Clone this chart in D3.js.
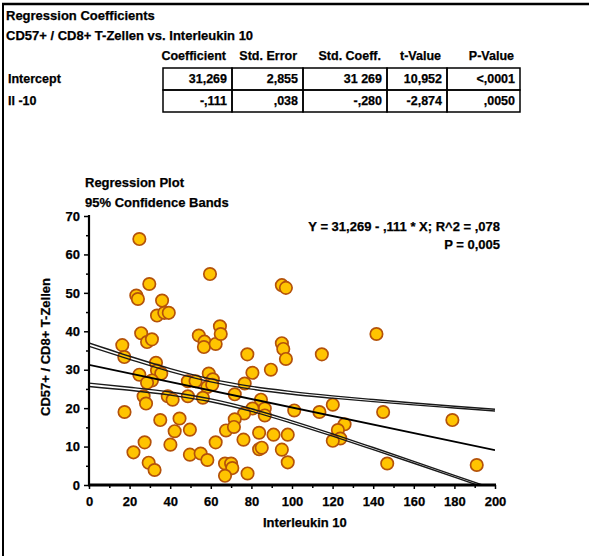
<!DOCTYPE html>
<html lang="de">
<head>
<meta charset="UTF-8">
<script src="https://d3js.org/d3.v7.min.js"></script>
<title>Regression CD57+ / CD8+ vs. Interleukin 10</title>
<style>
  body { margin: 0; background: #fff; }
  svg text { font-family: "Liberation Sans", Arial, sans-serif; font-weight: bold; fill: #000;
             stroke: #000; stroke-width: 0.25px; }
</style>
</head>
<body>
<div id="chart"></div>
<script>
// table content
var tableTitle = "Regression Coefficients";
var tableSubtitle = "CD57+ / CD8+ T-Zellen vs. Interleukin 10";
var colHeaders = ["Coefficient", "Std. Error", "Std. Coeff.", "t-Value", "P-Value"];
var rowLabels = ["Intercept", "Il -10"];
var rowValues = [
  ["31,269", "2,855", "31 269", "10,952", "<,0001"],
  ["-,111", ",038", "-,280", "-2,874", ",0050"]
];

// scatter data: Interleukin 10 (x) vs CD57+/CD8+ T-Zellen (y)
var il10 = [24.8, 59.6, 29.7, 23.3, 24.1, 36.0, 33.5, 37.1, 39.3, 25.7,
            28.6, 31.0, 16.4, 17.4, 54.1, 56.9, 56.6, 62.4, 64.5, 64.9,
            95.0, 97.0, 95.0, 95.7, 97.0, 78.0, 114.7, 141.6, 33.0, 24.8,
            33.5, 35.6, 31.0, 28.6, 48.7, 52.5, 59.0, 61.0, 58.3, 60.7,
            26.9, 28.1, 38.8, 41.2, 48.7, 56.1, 17.5, 35.1, 44.6, 42.2,
            49.7, 27.4, 40.1, 62.4, 21.9, 49.7, 55.0, 58.3, 29.4, 32.3,
            67.0, 70.0, 70.6, 67.0, 67.5, 80.5, 89.6, 76.7, 71.8, 84.7,
            86.6, 86.6, 80.5, 76.4, 101.1, 113.5, 120.1, 125.9, 122.6, 123.8,
            120.1, 71.8, 71.4, 76.1, 83.8, 90.9, 97.9, 83.8, 85.1, 95.0,
            97.9, 78.1, 144.9, 179.0, 146.9, 191.0];
var cd57 = [64.0, 54.9, 52.3, 49.3, 48.4, 48.0, 44.1, 44.8, 44.8, 39.5,
            37.2, 37.9, 36.4, 33.3, 38.9, 37.3, 35.9, 36.7, 41.3, 39.3,
            52.0, 51.3, 36.9, 35.4, 32.8, 34.0, 34.0, 39.3, 31.8, 28.7,
            29.8, 29.0, 27.2, 26.6, 27.0, 27.0, 29.0, 27.5, 25.5, 26.1,
            23.1, 21.2, 23.1, 22.2, 23.1, 22.7, 19.0, 16.9, 17.3, 14.0,
            14.4, 11.1, 10.5, 11.1, 8.5, 7.9, 8.2, 6.5, 5.8, 3.9,
            5.6, 5.6, 4.4, 2.4, 14.2, 29.2, 30.0, 26.4, 23.6, 22.2,
            19.9, 18.1, 19.9, 18.6, 19.4, 19.0, 20.9, 15.8, 14.3, 12.1,
            11.5, 17.1, 15.1, 11.8, 13.6, 13.1, 13.1, 9.3, 9.7, 9.2,
            5.9, 3.0, 19.0, 16.9, 5.6, 5.2];

// fit line and 95% confidence bands
var fitX = [0, 200];
var fitY = [31.269, 9.069];
var bandX = [0, 20, 40, 60, 80, 100, 120, 140, 160, 180, 200];
var upperA = [36.97, 33.5, 30.3, 27.6, 25.65, 24.3, 23.2, 22.25, 21.35, 20.5, 19.7];
var upperB = [36.07, 32.7, 29.5, 26.85, 24.95, 23.6, 22.6, 21.7, 20.85, 20.05, 19.25];
var lowerA = [26.5, 25.45, 24.2, 22.4, 19.85, 16.7, 13.3, 9.75, 6.15, 2.5, -1.1];
var lowerB = [25.65, 24.65, 23.4, 21.65, 19.15, 16.05, 12.7, 9.2, 5.65, 2.05, -1.6];

var plotTitle = ["Regression Plot", "95% Confidence Bands"];
var eqText = ["Y = 31,269 - ,111 * X; R^2 = ,078", "P = 0,005"];
var xLabel = "Interleukin 10";
var yLabel = "CD57+ / CD8+ T-Zellen";

var width = 589, height = 556;
var svg = d3.select("#chart").append("svg")
    .attr("width", width)
    .attr("height", height);

// page frame (top + left)
svg.append("line").attr("x1", 2).attr("x2", width).attr("y1", 4).attr("y2", 4)
    .attr("stroke", "#000").attr("stroke-width", 2.5);
svg.append("line").attr("x1", 3).attr("x2", 3).attr("y1", 3).attr("y2", height)
    .attr("stroke", "#000").attr("stroke-width", 2);

// ---- coefficient table ----
svg.append("text").attr("x", 6).attr("y", 20).attr("font-size", "13px").text(tableTitle);
svg.append("text").attr("x", 6).attr("y", 40).attr("font-size", "13px").text(tableSubtitle);

var colEdges = [163, 232, 303, 387, 447, 520];
var rowTop = 68, rowH = 22;

colHeaders.forEach(function (h, i) {
  svg.append("text")
    .attr("x", colEdges[i + 1] - 6)
    .attr("y", 60)
    .attr("text-anchor", "end")
    .attr("font-size", "12.5px")
    .text(h);
});

rowLabels.forEach(function (lab, r) {
  var y0 = rowTop + r * rowH;
  svg.append("text").attr("x", 8).attr("y", y0 + 15).attr("font-size", "12.5px").text(lab);
  rowValues[r].forEach(function (v, i) {
    svg.append("rect")
      .attr("x", colEdges[i]).attr("y", y0)
      .attr("width", colEdges[i + 1] - colEdges[i]).attr("height", rowH)
      .attr("fill", "none").attr("stroke", "#000").attr("stroke-width", 1.5);
    svg.append("text")
      .attr("x", colEdges[i + 1] - 5)
      .attr("y", y0 + 15)
      .attr("text-anchor", "end")
      .attr("font-size", "12.5px")
      .text(v);
  });
});

// ---- regression plot ----
var x = d3.scaleLinear().domain([0, 200]).range([89, 495]);
var y = d3.scaleLinear().domain([0, 70]).range([485, 216]);

svg.append("text").attr("x", 85).attr("y", 187).attr("font-size", "13px").text(plotTitle[0]);
svg.append("text").attr("x", 85).attr("y", 207).attr("font-size", "13px").text(plotTitle[1]);

svg.append("text").attr("x", 500).attr("y", 231).attr("text-anchor", "end")
    .attr("font-size", "13px").text(eqText[0]);
svg.append("text").attr("x", 500).attr("y", 249).attr("text-anchor", "end")
    .attr("font-size", "13px").text(eqText[1]);

// clip for lines
svg.append("clipPath").attr("id", "plotclip").append("rect")
    .attr("x", 89).attr("y", 216).attr("width", 406).attr("height", 269);

// points
svg.append("g").selectAll("circle")
    .data(il10.map(function (d, i) { return [d, cd57[i]]; }))
    .join("circle")
    .attr("cx", function (d) { return x(d[0]); })
    .attr("cy", function (d) { return y(d[1]); })
    .attr("r", 6.2)
    .attr("fill", "#ffc400")
    .attr("stroke", "#b4520a")
    .attr("stroke-width", 1.7);

// bands + fit line
var band = d3.line()
    .x(function (d) { return x(d[0]); })
    .y(function (d) { return y(d[1]); })
    .curve(d3.curveMonotoneX);
var lineG = svg.append("g").attr("clip-path", "url(#plotclip)");
[upperA, upperB, lowerA, lowerB].forEach(function (arr) {
  lineG.append("path")
    .datum(bandX.map(function (d, i) { return [d, arr[i]]; }))
    .attr("d", band)
    .attr("fill", "none")
    .attr("stroke", "#1a1a1a")
    .attr("stroke-width", 1.4);
});
lineG.append("path")
  .datum(fitX.map(function (d, i) { return [d, fitY[i]]; }))
  .attr("d", band)
  .attr("fill", "none")
  .attr("stroke", "#000")
  .attr("stroke-width", 1.9);

// axes
svg.append("g")
    .attr("transform", "translate(0,485)")
    .call(d3.axisBottom(x).tickValues(d3.range(0, 201, 20)).tickSize(4).tickPadding(8));
svg.append("g")
    .attr("transform", "translate(0,485)")
    .call(d3.axisBottom(x).tickValues(d3.range(10, 200, 20)).tickSize(3).tickFormat(""));
svg.append("g")
    .attr("transform", "translate(89,0)")
    .call(d3.axisLeft(y).tickValues(d3.range(0, 71, 10)).tickSize(5).tickPadding(4));
svg.append("g")
    .attr("transform", "translate(89,0)")
    .call(d3.axisLeft(y).tickValues(d3.range(5, 70, 10)).tickSize(3).tickFormat(""));

svg.selectAll(".domain").remove();
svg.selectAll(".tick line").attr("stroke", "#000").attr("stroke-width", 1.5);
svg.selectAll(".tick text").attr("font-size", "13px")
    .attr("font-family", "'Liberation Sans', Arial, sans-serif").attr("font-weight", "bold");

svg.append("line").attr("x1", 88).attr("x2", 496).attr("y1", 485).attr("y2", 485)
    .attr("stroke", "#000").attr("stroke-width", 2.8);
svg.append("line").attr("x1", 89).attr("x2", 89).attr("y1", 215).attr("y2", 486)
    .attr("stroke", "#000").attr("stroke-width", 2.2);

svg.append("text").attr("x", 263).attr("y", 527).attr("font-size", "13px").text(xLabel);
svg.append("text")
    .attr("transform", "translate(50,347) rotate(-90)")
    .attr("text-anchor", "middle")
    .attr("font-size", "13px")
    .text(yLabel);
</script>
</body>
</html>
